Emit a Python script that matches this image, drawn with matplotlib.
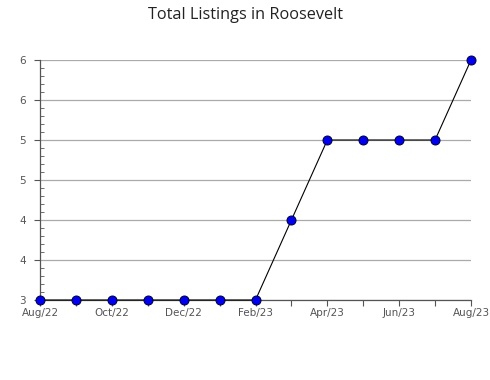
import matplotlib
matplotlib.use("Agg")
import matplotlib.pyplot as plt
from matplotlib.ticker import MultipleLocator

# Monthly totals, Aug/22 .. Aug/23
months = ["Aug/22", "Sep/22", "Oct/22", "Nov/22", "Dec/22", "Jan/23", "Feb/23",
          "Mar/23", "Apr/23", "May/23", "Jun/23", "Jul/23", "Aug/23"]
listings = [3, 3, 3, 3, 3, 3, 3, 4, 5, 5, 5, 5, 6]
y_ticks = [3, 3.5, 4, 4.5, 5, 5.5, 6]
y_labels = ["3", "4", "4", "5", "5", "6", "6"]

fig = plt.figure(figsize=(4.9, 3.8), dpi=100)
ax = fig.add_axes([40 / 490, 80 / 380, 431 / 490, 240 / 380])

x = list(range(len(months)))
ax.plot(x, listings, color="black", linewidth=0.8, zorder=3,
        marker="o", markersize=6.5, markerfacecolor="#0000ee",
        markeredgecolor="#000033", markeredgewidth=0.7, clip_on=False)

ax.set_xlim(0, len(months) - 1)
ax.set_ylim(3, 6)

# y axis: major ticks with labels, minor ticks pointing inward
ax.set_yticks(y_ticks)
ax.set_yticklabels(y_labels)
ax.yaxis.set_minor_locator(MultipleLocator(0.1))
ax.tick_params(axis="y", which="major", direction="out", length=4,
               color="#555555", labelsize=7.5, labelcolor="#555555", pad=6)
ax.tick_params(axis="y", which="minor", direction="in", length=3,
               color="#555555")
ax.grid(axis="y", which="major", color="#aaaaaa", linewidth=0.9)

# x axis: tick every month, label every second month
ax.set_xticks(x)
ax.set_xticklabels([m if i % 2 == 0 else "" for i, m in enumerate(months)])
ax.tick_params(axis="x", direction="out", length=4, color="#555555",
               labelsize=7.5, labelcolor="#555555", pad=2)

for side in ["top", "right"]:
    ax.spines[side].set_visible(False)
for side in ["left", "bottom"]:
    ax.spines[side].set_color("#555555")
    ax.spines[side].set_linewidth(0.9)

fig.text(0.5, 1 - 15 / 380, "Total Listings in Roosevelt", ha="center",
         va="center", fontsize=11.7, color="#222222", family="Open Sans")

fig.savefig("out.png", dpi=100)
